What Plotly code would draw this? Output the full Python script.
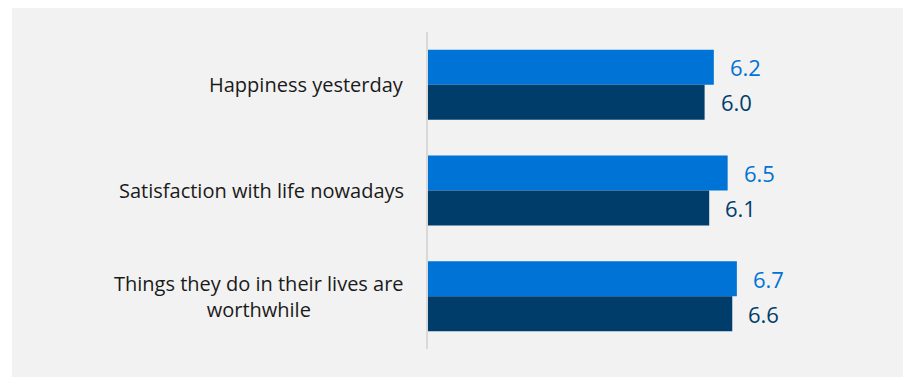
import plotly.graph_objects as go

# Wellbeing measures (mean scores, 0-10 scale)
categories = [
    "Happiness yesterday",
    "Satisfaction with life nowadays",
    "Things they do in their lives are<br>worthwhile",
]
latest_values = [6.2, 6.5, 6.7]
previous_values = [6.0, 6.1, 6.6]

light_blue = "#0073d6"
dark_blue = "#003d6b"
text_dark = "#1a1a1a"
positions = list(range(len(categories)))

fig = go.Figure()
fig.add_trace(go.Bar(
    y=positions, x=latest_values, orientation="h", name="Latest",
    marker=dict(color=light_blue, line=dict(width=0)),
    hoverinfo="skip",
))
fig.add_trace(go.Bar(
    y=positions, x=previous_values, orientation="h", name="Previous",
    marker=dict(color=dark_blue, line=dict(width=0)),
    hoverinfo="skip",
))

annotations = []
# Category labels, right-aligned against the axis, centred lines
for pos, label in zip(positions, categories):
    annotations.append(dict(
        x=0, xref="paper", y=pos, yref="y", text=label,
        xanchor="right", yanchor="middle", align="center", xshift=-22,
        showarrow=False, font=dict(size=20, color=text_dark),
    ))
# Value labels to the right of each bar
for pos, v in zip(positions, latest_values):
    annotations.append(dict(
        x=v, y=pos, text=f"{v:.1f}", xanchor="left", yanchor="middle",
        xshift=14, yshift=17.5, showarrow=False,
        font=dict(size=22, color=light_blue),
    ))
for pos, v in zip(positions, previous_values):
    annotations.append(dict(
        x=v, y=pos, text=f"{v:.1f}", xanchor="left", yanchor="middle",
        xshift=14, yshift=-17.5, showarrow=False,
        font=dict(size=22, color=dark_blue),
    ))

fig.update_layout(
    width=903, height=377,
    margin=dict(l=428, r=14, t=32, b=28),
    paper_bgcolor="white",
    plot_bgcolor="rgba(0,0,0,0)",
    font=dict(family="'Open Sans', sans-serif"),
    barmode="group", bargap=0.338, bargroupgap=0,
    showlegend=False,
    annotations=annotations,
    shapes=[dict(
        type="rect", xref="paper", yref="paper",
        x0=-0.9024, x1=1.04, y0=-0.1, y1=1.0757,
        fillcolor="#f2f2f2", line=dict(width=0), layer="below",
    )],
    xaxis=dict(range=[0, 10], visible=False, fixedrange=True),
    yaxis=dict(
        range=[2.5, -0.5], showticklabels=False, ticks="",
        showgrid=False, zeroline=False,
        showline=True, linecolor="#d9d9d9", linewidth=2,
        fixedrange=True,
    ),
)

fig.write_html("out.html")
